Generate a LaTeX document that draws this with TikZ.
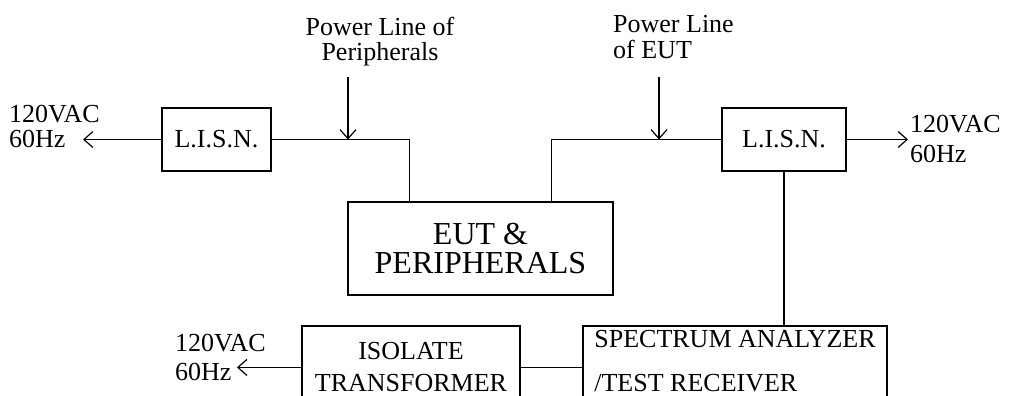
\documentclass[tikz,border=0pt]{standalone}
\usepackage{fontspec}
\setmainfont{Liberation Serif}
\usetikzlibrary{arrows.meta,calc}
\newcommand{\fsz}[2]{\fontsize{#1}{#2}\selectfont}
\begin{document}
\begin{tikzpicture}[x=1pt,y=-1pt,
  wire/.style={line width=1.2pt},
  box/.style={draw,line width=1.2pt,inner sep=0pt,font=\fsz{26}{26}},
  tip/.style={-{Straight Barb[length=9pt,width=16pt,line width=1.2pt]}},
  lbl/.style={inner sep=0pt,align=left}]
\useasboundingbox (0,0) rectangle (1010,396);
\clip (0,0) rectangle (1010,396);
% boxes
\node[box,minimum width=109pt,minimum height=63pt] (lisnL) at (216.5,139.5) {L.I.S.N.};
\node[box,minimum width=124pt,minimum height=63pt] (lisnR) at (784,139.5) {L.I.S.N.};
\node[box,minimum width=265pt,minimum height=93pt,align=center,font=\fsz{32}{29}] (eut) at (480.5,248.5) {EUT \&\\PERIPHERALS};
\node[box,minimum width=218pt,minimum height=82.8pt,align=center,font=\fsz{26}{32}] (iso) at (411,367.4) {ISOLATE\\TRANSFORMER};
\node[box,minimum width=304pt,minimum height=70.8pt,align=left,font=\fsz{26}{44}] (sa) at (735,361.4) {SPECTRUM ANALYZER\\/TEST RECEIVER};
% labels
\node[lbl,anchor=north west,font=\fsz{26}{25}] (acL) at (9,105.4) {120VAC\\60Hz};
\node[lbl,anchor=north west,font=\fsz{26}{30}] (acR) at (910,115.4) {120VAC\\60Hz};
\node[lbl,anchor=north west,font=\fsz{26}{29}] (acB) at (175,334.4) {120VAC\\60Hz};
\node[lbl,align=center,anchor=north,font=\fsz{26}{25}] (plP) at (380,17.2) {Power Line of\\Peripherals};
\node[lbl,anchor=north west,font=\fsz{26}{26}] (plE) at (613,15.2) {Power Line\\of EUT};
% free ends
\coordinate (arrL) at (83,139.5);
\coordinate (arrR) at (908,139.5);
\coordinate (arrB) at (237,367.4);
\coordinate (pP) at (348,77);
\coordinate (pE) at (659,77);
% connectors
\draw[wire,tip] (lisnL.west) -- (arrL);
\draw[wire,tip] (lisnR.east) -- (arrR);
\draw[wire,tip] (iso.west) -- (arrB);
\draw[wire] (lisnL.east) -| ($(eut.north west)+(62,0)$);
\draw[wire] (lisnR.west) -| ($(eut.north east)+(-62,0)$);
\draw[wire,tip] (pP) -- (pP |- lisnL.east);
\draw[wire,tip] (pE) -- (pE |- lisnR.west);
\draw[wire] (lisnR.south) -- (lisnR.south |- sa.north);
\draw[wire] (iso.east) -- (iso.east -| sa.west);
\end{tikzpicture}
\end{document}
